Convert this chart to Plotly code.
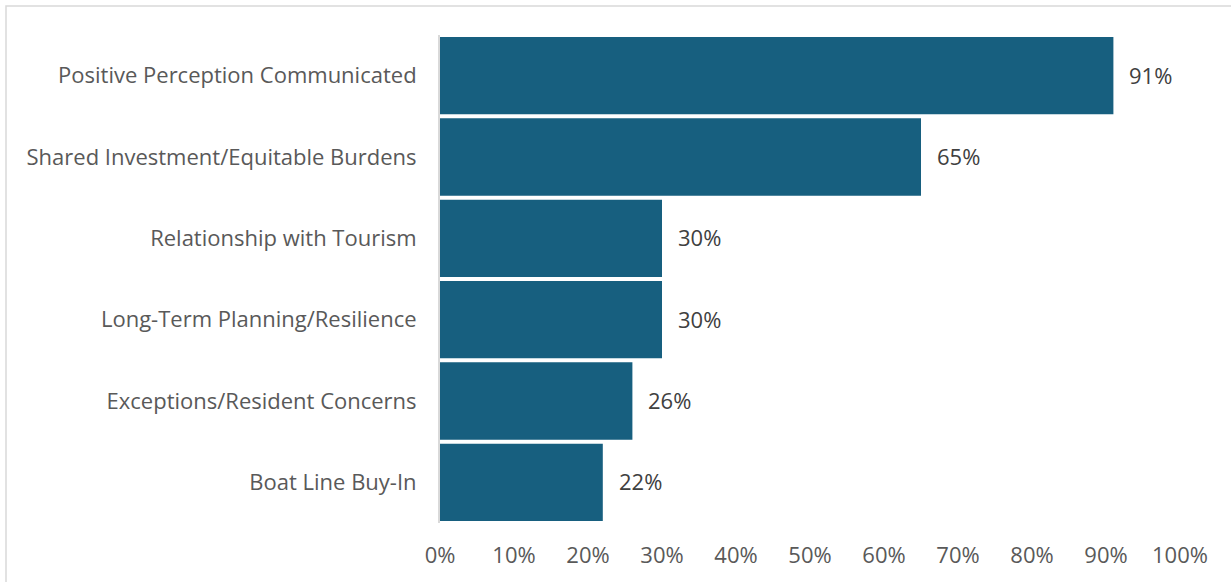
import plotly.graph_objects as go

categories = [
    "Positive Perception Communicated",
    "Shared Investment/Equitable Burdens",
    "Relationship with Tourism",
    "Long-Term Planning/Resilience",
    "Exceptions/Resident Concerns",
    "Boat Line Buy-In",
]
values = [0.91, 0.65, 0.30, 0.30, 0.26, 0.22]
tick_vals = [i / 10 for i in range(11)]
tick_text = [f"{i*10}%" for i in range(11)]

W, H = 1231, 582
ML, MR, MT, MB = 440, 51, 35, 59
PW = W - ML - MR
PH = H - MT - MB

FONT = "Open Sans"
FS = 22
BAR = "#175f7f"

fig = go.Figure()
fig.add_trace(go.Bar(
    y=categories,
    x=values,
    orientation="h",
    marker=dict(color=BAR, line=dict(width=0)),
    hoverinfo="skip",
))

for c, v in zip(categories, values):
    fig.add_annotation(
        x=v, y=c, xref="x", yref="y",
        text=f"{round(v*100)}%",
        showarrow=False, xanchor="left", xshift=14, yshift=1,
        font=dict(family=FONT, size=FS, color="#404040"),
    )

# outer chart border
fig.add_shape(
    type="rect", xref="paper", yref="paper",
    x0=(6 - ML) / PW, x1=(W + 20 - ML) / PW,
    y0=-(H + 20 - MT - PH) / PH, y1=1 + (MT - 6) / PH,
    line=dict(color="#d9d9d9", width=1.5), fillcolor="rgba(0,0,0,0)",
    layer="below",
)

fig.update_layout(
    width=W, height=H,
    margin=dict(l=ML, r=MR, t=MT, b=MB),
    paper_bgcolor="white", plot_bgcolor="white",
    bargap=0.05,
    showlegend=False,
    font=dict(family=FONT, size=FS, color="#595959"),
    xaxis=dict(
        range=[0, 1], tickvals=tick_vals, ticktext=tick_text,
        showgrid=False, zeroline=False, showline=False,
        ticks="outside", ticklen=13, tickcolor="rgba(0,0,0,0)",
        tickfont=dict(family=FONT, size=FS, color="#595959"),
        fixedrange=True,
    ),
    yaxis=dict(
        categoryorder="array", categoryarray=categories[::-1],
        showgrid=False, zeroline=False,
        showline=True, linecolor="#d9d9d9", linewidth=2,
        ticks="outside", ticklen=17, tickcolor="rgba(0,0,0,0)",
        tickfont=dict(family=FONT, size=FS, color="#595959"),
        fixedrange=True,
    ),
)

fig.write_html("out.html", config={"displayModeBar": False})
